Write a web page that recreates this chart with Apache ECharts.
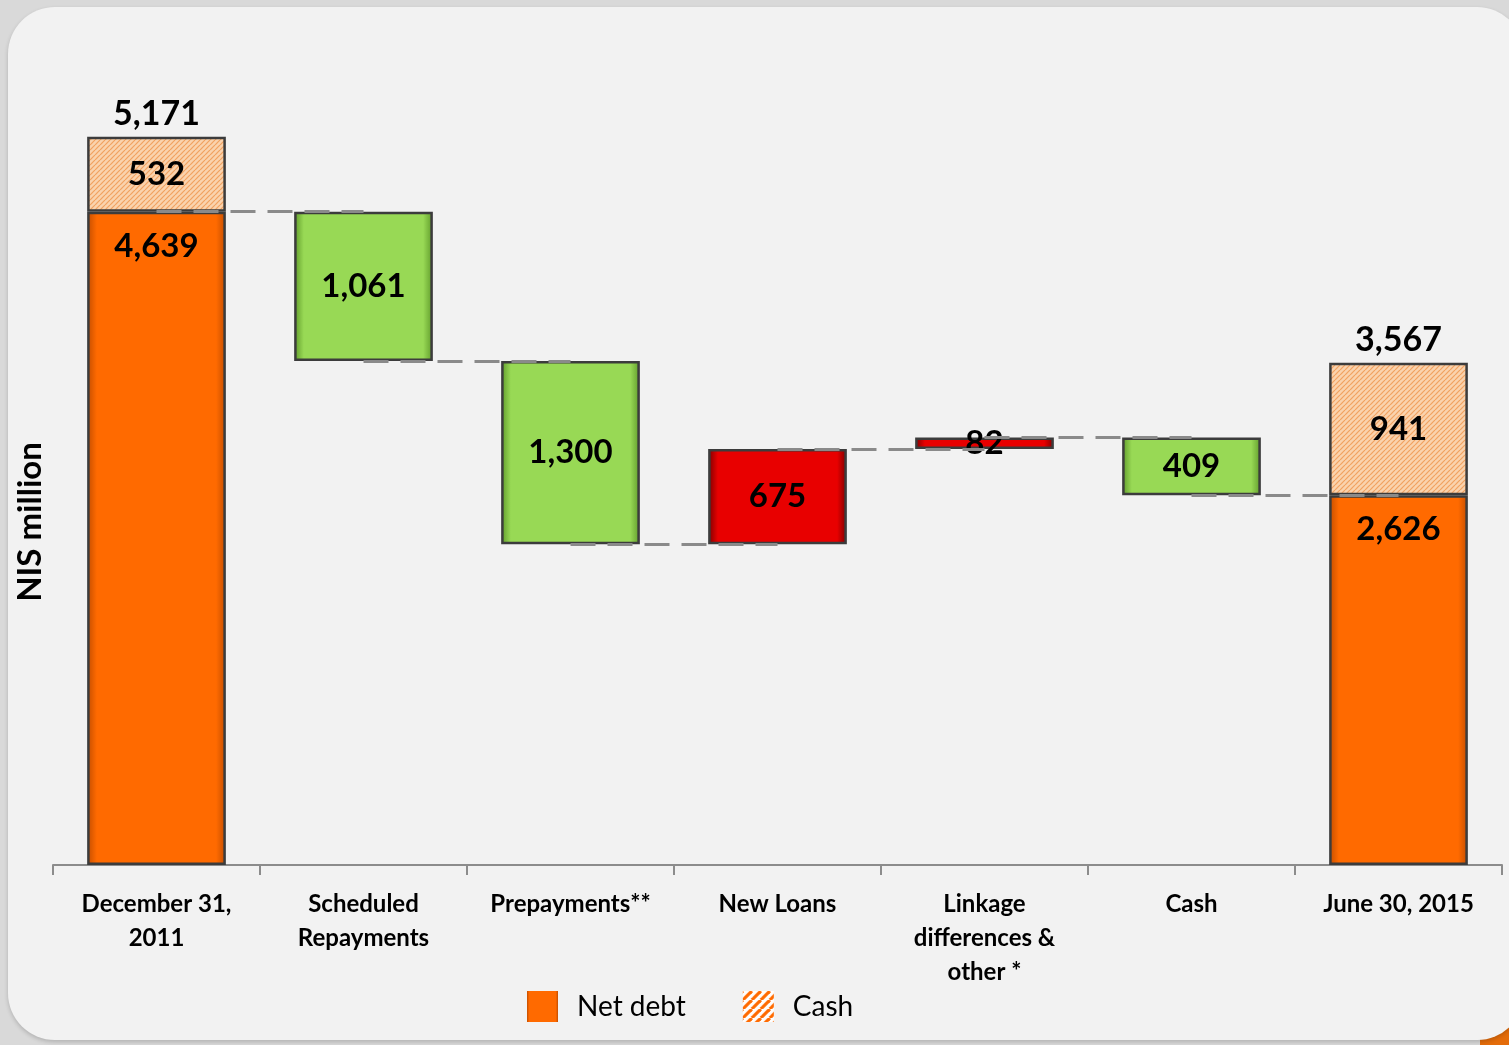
<!DOCTYPE html>
<html>
<head>
<meta charset="utf-8">
<script src="https://cdn.jsdelivr.net/npm/echarts@6/dist/echarts.min.js"></script>
<style>
html,body{margin:0;padding:0;background:#d9d9d9;}
#c{width:1509px;height:1045px;}
</style>
</head>
<body>
<div id="c"></div>
<script>
// ---- data ----
const categories = ['December 31,\n2011', 'Scheduled\nRepayments', 'Prepayments**', 'New Loans', 'Linkage\ndifferences &\nother *', 'Cash', 'June 30, 2015'];
const netDebt = [4639, null, null, null, null, null, 2626];
const cashBal = [532, null, null, null, null, null, 941];
const changes = [null, -1061, -1300, 675, 82, -409, null];
const yMax = 6000;

// ---- derived waterfall helpers ----
const base = [], decrease = [], increase = [], totals = [];
const levels = [];
let level = 0;
for (let i = 0; i < categories.length; i++) {
  if (netDebt[i] != null) {
    base.push(0); decrease.push('-'); increase.push('-');
    totals.push(netDebt[i] + cashBal[i]);
    level = netDebt[i];
  } else {
    const c = changes[i];
    if (c < 0) { base.push(level + c); decrease.push(-c); increase.push('-'); }
    else { base.push(level); increase.push(c); decrease.push('-'); }
    totals.push('-');
    level += c;
  }
  levels.push(level);
}
const connectors = [];
for (let i = 0; i < categories.length - 1; i++) {
  connectors.push([{ coord: [i, levels[i]] }, { coord: [i + 1, levels[i]] }]);
}

function hatch(size, bg, fg, lw) {
  const cv = document.createElement('canvas');
  cv.width = size; cv.height = size;
  const g = cv.getContext('2d');
  g.fillStyle = bg; g.fillRect(0, 0, size, size);
  g.strokeStyle = fg; g.lineWidth = lw;
  for (let k = -1; k <= 1; k++) {
    g.beginPath();
    g.moveTo(k * size, size);
    g.lineTo(k * size + size, 0);
    g.stroke();
  }
  return cv;
}
const barHatch = { image: hatch(5, '#fad3ae', '#f1a260', 1.2), repeat: 'repeat' };
const legendHatch = { image: hatch(9, '#ffffff', '#ff6a00', 3.2), repeat: 'repeat' };

function bevel(edge, mid) {
  return new echarts.graphic.LinearGradient(0, 0, 1, 0, [
    { offset: 0, color: edge }, { offset: 0.07, color: mid },
    { offset: 0.93, color: mid }, { offset: 1, color: edge }
  ]);
}

const font = 'Lato, "Open Sans", sans-serif';
const valLabel = { show: true, color: '#000', fontFamily: font, fontWeight: 'bold', fontSize: 33,
  formatter: p => p.value.toLocaleString('en-US') };
const border = { borderColor: '#3c3c3c', borderWidth: 2.5 };

const chart = echarts.init(document.getElementById('c'), null, { renderer: 'canvas' });
chart.setOption({
  backgroundColor: '#d9d9d9',
  animation: false,
  graphic: [
    { type: 'rect', z: -2, shape: { x: 1480, y: 1010, width: 40, height: 40 }, style: { fill: '#e46c0a' } },
    { type: 'rect', z: -1, shape: { x: 8, y: 7, width: 1516, height: 1033, r: 47 },
      style: { fill: '#f2f2f2', shadowBlur: 4, shadowColor: 'rgba(0,0,0,0.18)', shadowOffsetY: 2 } },
    { type: 'text', z: 5, x: 30, y: 522, rotation: Math.PI / 2,
      style: { text: 'NIS million', fontFamily: font, fontWeight: 'bold', fontSize: 33, fill: '#000',
        textAlign: 'center', textVerticalAlign: 'middle' } }
  ],
  grid: { left: 53, right: 7, top: 20, bottom: 180 },
  legend: {
    data: [
      { name: 'Net debt', icon: 'rect' },
      { name: 'Cash', icon: 'rect', itemStyle: { color: legendHatch } }
    ],
    left: 522, top: 986, itemWidth: 31, itemHeight: 31, itemGap: 57,
    selectedMode: false,
    itemStyle: { borderWidth: 0 },
    textStyle: { fontFamily: font, fontSize: 28, color: '#000', padding: [0, 0, 0, 14] }
  },
  xAxis: {
    type: 'category', data: categories,
    axisLine: { lineStyle: { color: '#8c8c8c', width: 2 } },
    axisTick: { show: true, length: 10, lineStyle: { color: '#8c8c8c', width: 2 } },
    axisLabel: { interval: 0, color: '#000', fontFamily: font, fontWeight: 'bold', fontSize: 24, lineHeight: 34, margin: 22 }
  },
  yAxis: { type: 'value', min: 0, max: yMax, show: false },
  series: [
    { name: 'base', type: 'bar', stack: 'w', data: base, barWidth: '67%', z: 10, silent: true,
      itemStyle: { color: 'transparent' },
      markLine: { silent: true, symbol: 'none', z: 10, label: { show: false },
        lineStyle: { color: '#8a8a8a', width: 3, type: [25, 12] }, data: connectors } },
    { name: 'Net debt', type: 'bar', stack: 'w', data: netDebt.map(v => v == null ? '-' : v), z: 2,
      itemStyle: Object.assign({ color: bevel('#c24d00', '#ff6a00') }, border),
      label: Object.assign({ position: 'insideTop', distance: 18 }, valLabel) },
    { name: 'Cash', type: 'bar', stack: 'w', data: cashBal.map(v => v == null ? '-' : v), z: 2,
      itemStyle: Object.assign({ color: barHatch }, border),
      label: Object.assign({ position: 'inside' }, valLabel) },
    { name: 'decrease', type: 'bar', stack: 'w', data: decrease, z: 2,
      itemStyle: Object.assign({ color: bevel('#5f9a2a', '#98d955') }, border),
      label: Object.assign({ position: 'inside' }, valLabel) },
    { name: 'increase', type: 'bar', stack: 'w', data: increase, z: 2,
      itemStyle: Object.assign({ color: bevel('#7a0000', '#e80000') }, border),
      label: Object.assign({ position: 'inside' }, valLabel) },
    { name: 'total', type: 'scatter', data: totals, symbolSize: 0, z: 12, silent: true,
      itemStyle: { opacity: 1 },
      label: Object.assign({}, valLabel, { position: 'top', distance: 6, fontSize: 34 }) }
  ]
});
</script>
</body>
</html>
